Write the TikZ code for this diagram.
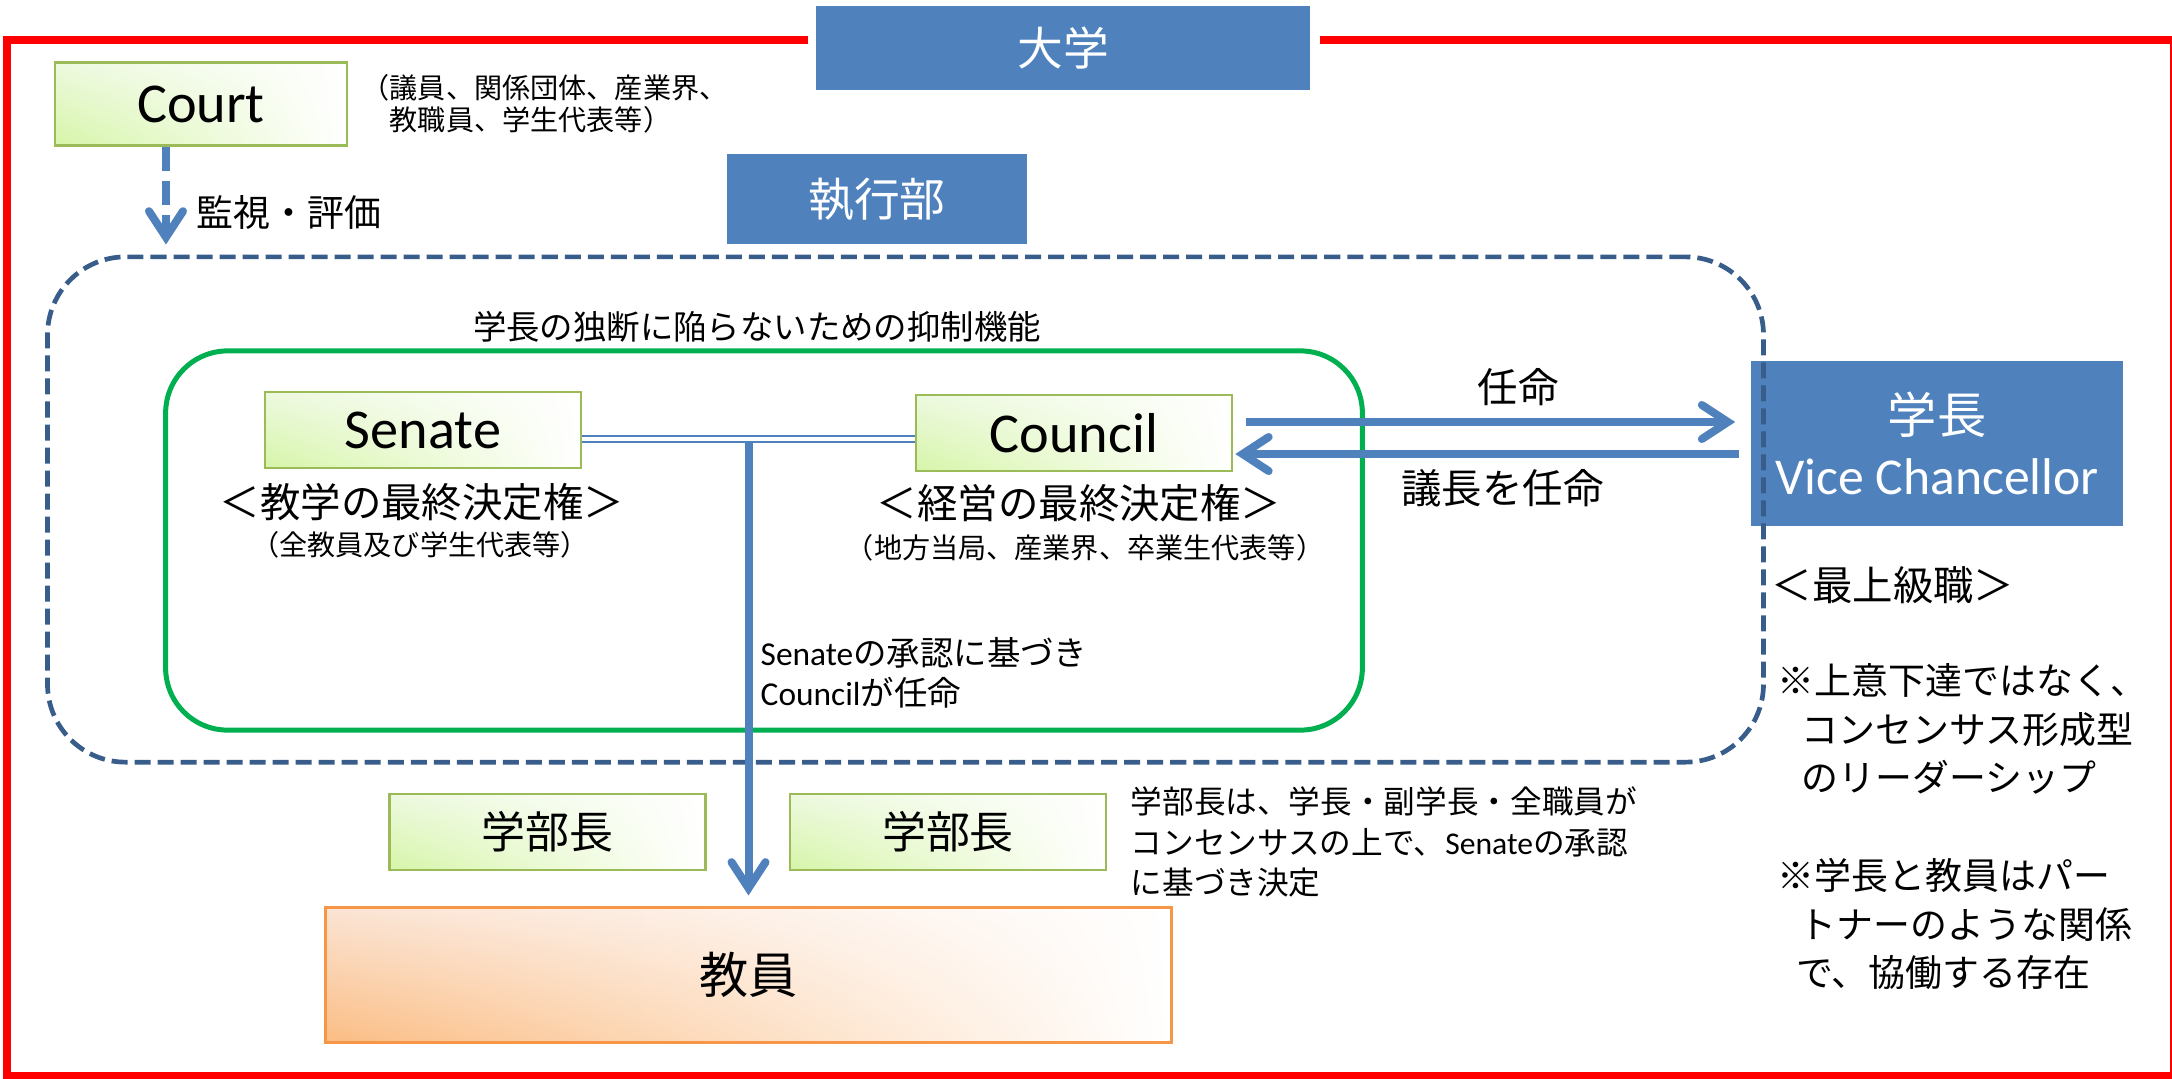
\documentclass[tikz,border=0pt]{standalone}
\usepackage{fontspec}
\setmainfont{Noto Sans CJK JP}
\newfontfamily\lat{Carlito}
\usetikzlibrary{arrows.meta}
\usetikzlibrary{shadings}
\definecolor{blueF}{HTML}{4F81BD}
\definecolor{dashB}{HTML}{385D8A}
\definecolor{ringG}{HTML}{00B050}
\definecolor{edgeG}{HTML}{9BBB59}
\definecolor{edgeO}{HTML}{F79646}
\definecolor{paleG}{HTML}{D6F5A8}
\definecolor{softG}{HTML}{EDF9DF}
\definecolor{paleO}{HTML}{FBBD84}
\definecolor{softO}{HTML}{FBE4D4}
\tikzset{   title/.style = {rectangle, draw = blueF, fill = blueF, text = white, inner sep = 0pt},
            body/.style = {rectangle, draw = edgeG, line width = 0.025cm, lower left = paleG, upper left = softG, upper right = white, lower right = white, minimum width = 3.16cm, minimum height = 0.76cm, inner sep = 0pt},
            link/.style = {blueF, line width = 0.08cm, -{Straight Barb[length=0.26cm, width=0.34cm, line cap=round]}},
            big/.style = {font = \fontsize{11.5}{14}\selectfont},
            mid/.style = {font = \fontsize{9.5}{11.4}\selectfont},
            small/.style = {font = \fontsize{8}{9.1}\selectfont},
            note/.style = {align = left, inner sep = 0pt, font = \fontsize{10.5}{13.8}\selectfont}}
\begin{document}
\begin{tikzpicture}[x=0.01cm, y=-0.01cm]
\useasboundingbox (0,0) rectangle (2172,1078);
\draw[red, line width=0.08cm] (808,40) -- (7,40) -- (7,1076) -- (2174,1076) -- (2174,40) -- (1320,40);

\node[title, minimum width=4.93cm, minimum height=0.83cm, font=\fontsize{13}{15}\selectfont] (univ) at (1063,48) {大学};
\node[title, minimum width=2.99cm, minimum height=0.89cm, font=\fontsize{13}{15}\selectfont] (exec) at (877,199) {執行部};
\node[body, minimum width=2.92cm, minimum height=0.83cm, font={\lat\fontsize{16}{19}\selectfont}] (court) at (201,104) {Court};
\node[small, align=left, anchor=west, inner sep=0pt] (courtnote) at (361,104) {（議員、関係団体、産業界、\\\hspace{1em}教職員、学生代表等）};
\node[font=\fontsize{10.5}{13}\selectfont, anchor=west, inner sep=0pt] (watch) at (196,212) {監視・評価};

\node[mid] (aim) at (757,327) {学長の独断に陥らないための抑制機能};
\node[body, font={\lat\fontsize{16}{19}\selectfont}] (senate) at (423,430) {Senate};
\node[body, font={\lat\fontsize{16}{19}\selectfont}] (council) at (1074,433) {Council};
\node[big] (senrole) at (422,502) {＜教学の最終決定権＞};
\node[small] (senmem) at (420,545) {（全教員及び学生代表等）};
\node[big] (counrole) at (1079,503) {＜経営の最終決定権＞};
\node[small] (counmem) at (1085,548) {（地方当局、産業界、卒業生代表等）};
\node[mid, align=left, anchor=west, inner sep=0pt] (appoint) at (760,673) {{\lat Senate}の承認に基づき\\{\lat Council}が任命};

\node[title, minimum width=3.70cm, minimum height=1.63cm, align=center, font=\fontsize{14}{17.5}\selectfont] (head) at (1937,443.5) {学長\\{\lat\fontsize{14.7}{17.5}\selectfont Vice Chancellor}};
\node[big, anchor=west, inner sep=0pt] (rank) at (1771,585) {＜最上級職＞};
\node[note, anchor=west] (style) at (1777,729) {※上意下達ではなく、\\\hspace{0.65em}コンセンサス形成型\\\hspace{0.65em}のリーダーシップ};
\node[note, anchor=west] (partner) at (1777,924) {※学長と教員はパー\\\hspace{0.6em}トナーのような関係\\\hspace{0.5em}で、協働する存在};

\node[draw=dashB, line width=0.047cm, dash pattern=on 0.16cm off 0.07cm, rounded corners=0.78cm, minimum width=17.15cm, minimum height=5.05cm] (board) at (905.5,509.5) {};
\node[draw=ringG, line width=0.05cm, rounded corners=0.62cm, minimum width=11.96cm, minimum height=3.79cm] (ring) at (764,540.5) {};

\node[body, font=\fontsize{12.5}{15}\selectfont] (dean1) at (547.5,832) {学部長};
\node[body, font=\fontsize{12.5}{15}\selectfont] (dean2) at (948,832) {学部長};
\node[align=left, anchor=west, inner sep=0pt, font=\fontsize{9}{11.4}\selectfont] (deannote) at (1130,842) {学部長は、学長・副学長・全職員が\\コンセンサスの上で、{\lat Senate}の承認\\に基づき決定};
\node[rectangle, draw=edgeO, line width=0.03cm, lower left=paleO, upper left=softO, upper right=white, lower right=white, minimum width=8.45cm, minimum height=1.34cm, font=\fontsize{14}{17}\selectfont] (staff) at (748.5,975) {教員};

\draw[blueF, line width=0.023cm, double=white, double distance=0.033cm] ([yshift=-0.09cm]senate.east) -- ([yshift=-0.09cm]senate.east -| council.west);
\draw[link, shorten >=0.11cm] ([yshift=-0.13cm]senate.east -| staff.north) -- (staff.north);
\draw[link, shorten <=0.13cm, shorten >=0.16cm] ([yshift=0.11cm]council.east) -- ([yshift=0.11cm]council.east -| head.west) node[big, text=black, pos=0.55, above] (appt) {任命};
\draw[link, shorten <=0.12cm, shorten >=0.02cm] ([yshift=-0.21cm]council.east -| head.west) -- ([yshift=-0.21cm]council.east) node[big, text=black, pos=0.48, below] (chair) {議長を任命};
\draw[link, dash pattern=on 0.24cm off 0.1cm, shorten >=0.1cm] ([xshift=-0.35cm]court.south) -- ([xshift=-0.35cm]court.south |- board.north);
\end{tikzpicture}
\end{document}
